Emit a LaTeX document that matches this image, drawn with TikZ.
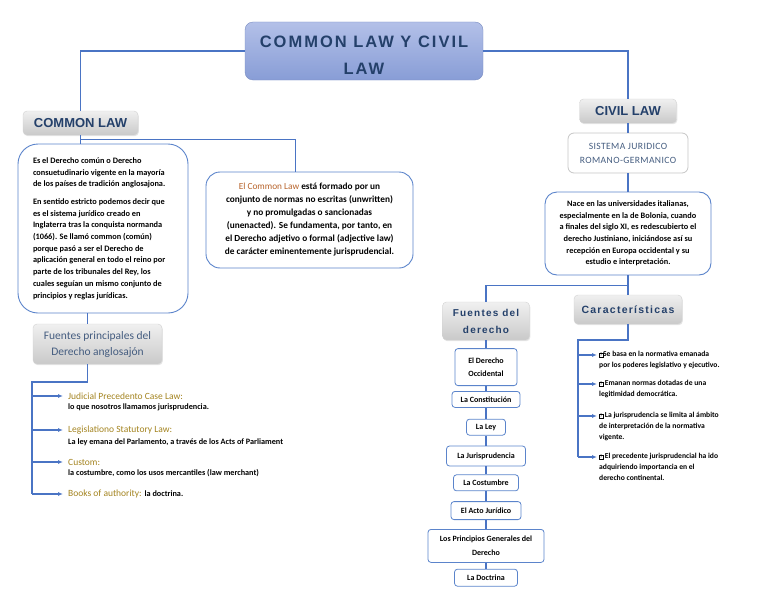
\documentclass[tikz,border=0pt]{standalone}
\usepackage{fontspec}
\setmainfont{Carlito}
\newfontfamily\headfont{Liberation Sans}
\newfontfamily\widefont[LetterSpace=12]{Liberation Sans}
\usetikzlibrary{positioning,arrows.meta,shadows}

\definecolor{linkblue}{HTML}{4A74C4}
\definecolor{edgeblue}{HTML}{5B84CB}
\definecolor{navy}{HTML}{24406A}
\definecolor{gold}{HTML}{A3831F}
\definecolor{rust}{HTML}{B8642C}
\definecolor{hubtop}{HTML}{B3C0E8}
\definecolor{hubbot}{HTML}{889DD6}

% little box that stands for the missing bullet glyph
\newcommand\nobullet{\raisebox{-0.3pt}{\fboxsep=0.5pt\fboxrule=0.3pt\fbox{\mdseries\fontsize{5}{5}\selectfont ?}}}

\begin{document}
\begin{tikzpicture}[
  x=1pt, y=-1pt,
  link/.style={draw=linkblue, line width=1.2pt},
  arr/.style={link, -{Latex[length=5pt,width=4pt]}},
  hub/.style={draw=hubbot!90!black, rounded corners=8pt, top color=hubtop, bottom color=hubbot,
    minimum width=238pt, minimum height=58pt, align=center, text=navy,
    font=\widefont\bfseries\fontsize{16.5}{27}\selectfont},
  tag/.style={rounded corners=4pt, top color=gray!12, bottom color=gray!42, draw=gray!35,
    align=center, text=navy, drop shadow={opacity=0.2, shadow xshift=0.8pt, shadow yshift=-1.2pt}},
  note/.style={draw=edgeblue, line width=0.9pt, fill=white, align=center,
    font=\bfseries\fontsize{8.3}{11.6}\selectfont},
  src/.style={draw=edgeblue, line width=0.8pt, rounded corners=3pt, align=center, inner sep=1pt,
    font=\bfseries\fontsize{8}{13.5}\selectfont},
  head/.style={anchor=west, inner xsep=5pt, inner ysep=2pt, text=gold, font=\fontsize{9.5}{11}\selectfont},
  gloss/.style={anchor=north west, inner xsep=5pt, inner ysep=1pt, font=\bfseries\fontsize{8.2}{9}\selectfont},
  item/.style={anchor=north west, align=left, inner xsep=2pt, inner ysep=1pt,
    font=\bfseries\fontsize{7.6}{11}\selectfont},
]
\useasboundingbox (0,0) rectangle (768,594);

\node[hub] (top) at (364,51) {\rule{0pt}{20pt}COMMON LAW Y CIVIL\\LAW};

% common law side
\node[tag, minimum width=115pt, minimum height=24pt, font=\headfont\bfseries\fontsize{13}{15}\selectfont] (cl) at (80.5,123) {COMMON LAW};
\node[note, rounded corners=20pt, minimum width=170pt, minimum height=169pt,
  font=\bfseries\fontsize{8.3}{11.7}\selectfont] (orig) at (103,228.5)
  {\hspace*{10pt}\parbox{150pt}{\raggedright
   Es el Derecho común o Derecho\\consuetudinario vigente en la mayoría\\de los países de tradición anglosajona.\\[6pt]
   En sentido estricto podemos decir que\\es el sistema jurídico creado en\\Inglaterra tras la conquista normanda\\
   (1066). Se llamó common (común)\\porque pasó a ser el Derecho de\\aplicación general en todo el reino por\\
   parte de los tribunales del Rey, los\\cuales seguían un mismo conjunto de\\principios y reglas jurídicas.}};
\node[note, rounded corners=14pt, minimum width=207pt, minimum height=96pt,
  font=\bfseries\fontsize{9.3}{13}\selectfont] (def) at (309.5,220)
  {{\mdseries\color{rust}El Common Law} está formado por un\\conjunto de normas no escritas (unwritten)\\
   y no promulgadas o sancionadas\\(unenacted). Se fundamenta, por tanto, en\\
   el Derecho adjetivo o formal (adjective law)\\de carácter eminentemente jurisprudencial.};
\node[tag, minimum width=129pt, minimum height=40pt, text=navy!85, font=\fontsize{11.5}{16}\selectfont] (fpal) at (97.5,344)
  {Fuentes principales del\\Derecho anglosajón};

\node[head] (h1) at (63,396) {Judicial Precedento Case Law:};
\node[gloss] (d1) at ([yshift=-1pt]h1.south west) {lo que nosotros llamamos jurisprudencia.};
\node[head] (h2) at (63,430) {Legislationo Statutory Law:};
\node[gloss] (d2) at ([yshift=-1pt]h2.south west) {La ley emana del Parlamento, a través de los Acts of Parliament};
\node[head] (h3) at (63,462) {Custom:};
\node[gloss] (d3) at ([yshift=-1pt]h3.south west) {la costumbre, como los usos mercantiles (law merchant)};
\node[head] (h4) at (63,494) {Books of authority: {\color{black}\bfseries\fontsize{8.2}{9}\selectfont la doctrina.}};

% civil law side
\node[tag, minimum width=97pt, minimum height=24pt, font=\headfont\bfseries\fontsize{13}{15}\selectfont] (civ) at (628,111) {CIVIL LAW};
\node[draw=gray!45, line width=0.8pt, rounded corners=6pt, fill=white, minimum width=120pt, minimum height=40pt,
  align=center, text=navy!85, font=\addfontfeature{LetterSpace=4}\fontsize{9.6}{14}\selectfont] (sis) at (628,153)
  {SISTEMA JURIDICO\\ROMANO-GERMANICO};
\node[note, rounded corners=12pt, minimum width=166pt, minimum height=83pt] (nace) at (628,233.5)
  {Nace en las universidades italianas,\\especialmente en la de Bolonia, cuando\\a finales del siglo XI, es redescubierto el\\
   derecho Justiniano, iniciándose así su\\recepción en Europa occidental y su\\estudio e interpretación.};
\node[tag, minimum width=87pt, minimum height=38pt, font=\widefont\bfseries\fontsize{10}{17}\selectfont] (fder) at (486,321) {Fuentes del\\derecho};
\node[tag, minimum width=108pt, minimum height=29pt, font=\widefont\bfseries\fontsize{10.5}{12}\selectfont] (carac) at (628,309.5) {Características};

\node[src, minimum width=62pt, minimum height=37pt, below=8pt of fder] (s1) {El Derecho\\Occidental};
\node[src, minimum width=68pt, minimum height=16pt, below=5pt of s1] (s2) {La Constitución};
\node[src, minimum width=39pt, minimum height=16pt, below=11pt of s2] (s3) {La Ley};
\node[src, minimum width=79pt, minimum height=20pt, below=10pt of s3] (s4) {La Jurisprudencia};
\node[src, minimum width=65pt, minimum height=16pt, below=8pt of s4] (s5) {La Costumbre};
\node[src, minimum width=70pt, minimum height=18pt, below=10pt of s5] (s6) {El Acto Jurídico};
\node[src, minimum width=116pt, minimum height=33pt, below=9pt of s6] (s7) {Los Principios Generales del\\Derecho};
\node[src, minimum width=63pt, minimum height=17pt, below=6pt of s7] (s8) {La Doctrina};

\node[item] (c1) at (597,350) {\nobullet Se basa en la normativa emanada\\por los poderes legislativo y ejecutivo.};
\node[item] (c2) at (597,379) {\nobullet\ Emanan normas dotadas de una\\legitimidad democrática.};
\node[item] (c3) at (597,411) {\nobullet\ La jurisprudencia se limita al ámbito\\de interpretación de la normativa\\vigente.};
\node[item] (c4) at (597,452) {\nobullet\ El precedente jurisprudencial ha ido\\adquiriendo importancia en el\\derecho continental.};

% connectors
\draw[link] (top.west) -| (cl.north);
\draw[link] (top.east) -| (civ.north);
\draw[link] (cl.south) -- (cl.south |- orig.north);
\coordinate (clbar) at ([yshift=-4pt]cl.south);
\draw[link] (clbar) -| ([xshift=-14pt]def.north);
\draw[link] ([xshift=-10pt]fpal.north) -- ([xshift=-10pt]fpal.north |- orig.south);

\coordinate (lrail) at (32,382);
\draw[link] ([xshift=-10pt]fpal.south) |- (lrail) -- (lrail |- h4.west);
\foreach \h in {h1,h2,h3,h4}
  \draw[arr] (lrail |- \h.west) -- (\h.west);

\draw[link] (civ) -- (sis);
\draw[link] (sis) -- (nace);
\draw[link] (nace) -- (carac);
\coordinate (split) at ([yshift=-10pt]nace.south);
\draw[link] (split) -| (fder.north);
\foreach \a/\b in {fder/s1,s1/s2,s2/s3,s3/s4,s4/s5,s5/s6,s6/s7,s7/s8}
  \draw[link] (\a) -- (\b);

\coordinate (rrail) at (578,340);
\foreach \c in {c1,c2,c3,c4} {
  \path ([yshift=-5pt]\c.north west) coordinate (\c p);
  \draw[arr] (rrail |- \c p) -- (\c p);
}
\draw[link] (carac.south) |- (rrail) -- (rrail |- c4p);
\end{tikzpicture}
\end{document}
